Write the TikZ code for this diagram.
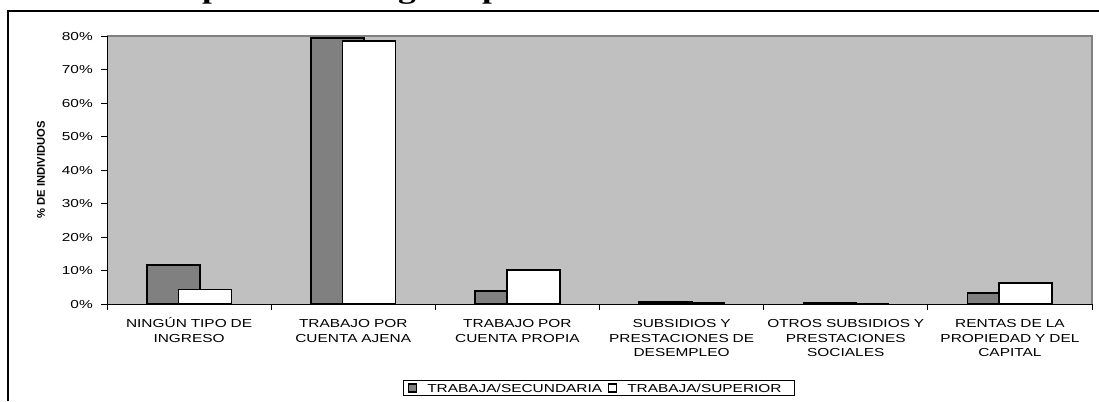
\documentclass[tikz,border=0pt]{standalone}
\usepackage{fontspec}
\newfontfamily\chartfont[FakeStretch=1.33]{Liberation Sans}
\newfontfamily\titlefont[FakeStretch=1.33]{Liberation Serif}
\newfontfamily\axisfont{Liberation Sans}
\definecolor{plotbg}{HTML}{C0C0C0}
\definecolor{barfill}{HTML}{808080}
\tikzset{
  lbl/.style={font=\chartfont\fontsize{8.7}{10.9}\selectfont, inner sep=0pt},
  ylbl/.style={lbl, anchor=base east},
  catlbl/.style={lbl, anchor=base, text width=160*0.75pt, align=center},
  bargrey/.style={fill=barfill, draw=black, line width=1.3pt},
  barwhite/.style={fill=white, draw=black, line width=1.3pt},
  axisline/.style={draw=black, line width=0.75pt},
  tickline/.style={draw=black, line width=0.75pt},
}
\begin{document}
\begin{tikzpicture}[x=0.75pt,y=-0.75pt]
\useasboundingbox (0,0) rectangle (1099,401);
\fill[white] (0,0) rectangle (1099,401);
% cut-off title (only descenders visible)
\begin{scope}
\clip (0,0) rectangle (1099,10);
\node[font=\titlefont\bfseries\fontsize{20}{24}\selectfont, inner sep=0pt, anchor=base] (t1) at (212,-1.5) {p};
\node[font=\titlefont\bfseries\fontsize{20}{24}\selectfont, inner sep=0pt, anchor=base] (t2) at (407,-1.5) {g};
\node[font=\titlefont\bfseries\fontsize{20}{24}\selectfont, inner sep=0pt, anchor=base] (t3) at (492,-1.5) {p};
\end{scope}
% outer chart frame
\draw[black, line width=0.9pt] (8,401) -- (8,11) -- (1099,11);
% plot area
\fill[plotbg] (107,36) rectangle (1092,304);
\draw[barfill, line width=1.3pt] (107,36) -- (1092,36) -- (1092,304);
% y ticks and labels
\foreach \v in {0,10,...,80} {
  \draw[tickline] (101,304-\v*3.35) -- (107,304-\v*3.35);
  \node[ylbl] (y\v) at (93,304-\v*3.35+4.2) {\v\%};
}
% y axis title
\node[font=\axisfont\bfseries\fontsize{8.4}{10}\selectfont, inner sep=0pt, rotate=90] (ytitle) at (41,170) {\% DE INDIVIDUOS};
% bars
\foreach \i/\g/\w in {0/11.6/4.3, 1/79.5/78.4, 2/3.9/10.1, 3/0.6/0.3, 4/0.4/0.08, 5/3.2/6.2} {
  \pgfmathsetmacro\c{107+(\i+0.5)*164.1667}
  \draw[bargrey] (\c-42.3,304) rectangle (\c+10.7,304-\g*3.35);
  \draw[barwhite] (\c-10.7,304) rectangle (\c+42.3,304-\w*3.35);
}
% axes
\draw[axisline] (107,36) -- (107,304) -- (1092,304);
\foreach \k in {0,...,6} {
  \draw[tickline] (107+\k*164.1667,304) -- (107+\k*164.1667,310);
}
% category labels
\foreach \i/\t in {0/{NINGÚN TIPO DE\\INGRESO}, 1/{TRABAJO POR\\CUENTA AJENA}, 2/{TRABAJO POR\\CUENTA PROPIA}, 3/{SUBSIDIOS Y\\PRESTACIONES DE\\DESEMPLEO}, 4/{OTROS SUBSIDIOS Y\\PRESTACIONES\\SOCIALES}, 5/{RENTAS DE LA\\PROPIEDAD Y DEL\\CAPITAL}} {
  \node[catlbl] (cat\i) at (107+\i*164.1667+82.08,327.5) {\t};
}
% legend
\draw[black, line width=0.75pt, fill=white] (403,380) rectangle (794,395);
\draw[bargrey, line width=1.1pt] (408.5,384) rectangle (416.5,392);
\node[lbl, anchor=base west] (leg1) at (427,392) {TRABAJA/SECUNDARIA};
\draw[barwhite, line width=1.1pt] (608.5,384) rectangle (616.5,392);
\node[lbl, anchor=base west] (leg2) at (627,392) {TRABAJA/SUPERIOR};
\end{tikzpicture}
\end{document}
